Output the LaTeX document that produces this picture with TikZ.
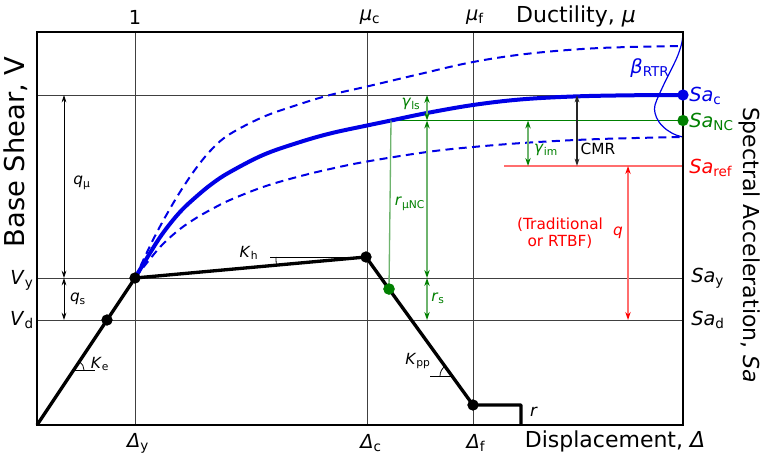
\documentclass[tikz,border=0pt]{standalone}
\usepackage{fontspec}
\setmainfont{DejaVu Sans}
\usetikzlibrary{arrows.meta}
\definecolor{myblue}{RGB}{0,0,230}
\definecolor{mygreen}{RGB}{0,128,0}
\definecolor{lgreen}{RGB}{110,180,110}
\definecolor{lred}{RGB}{255,110,110}
\newcommand\sbx[1]{\textsubscript{#1}}
\begin{document}
\begin{tikzpicture}[x=0.75pt,y=-0.75pt,
  gridline/.style={black!75,line width=0.75pt},
  frameline/.style={line width=1.6pt},
  push/.style={line width=2.5pt,line join=round},
  dotb/.style={circle,fill=black,inner sep=0pt,minimum size=8.3pt},
  dotg/.style={circle,fill=mygreen,inner sep=0pt,minimum size=8.5pt},
  dotbl/.style={circle,fill=myblue,inner sep=0pt,minimum size=8.5pt},
  dimar/.style={{Stealth[length=5.5pt,width=3.5pt]}-{Stealth[length=5.5pt,width=3.5pt]},line width=0.6pt},
  gdim/.style={{Stealth[length=6pt,width=4pt,color=mygreen]}-{Stealth[length=6pt,width=4pt,color=mygreen]},draw=lgreen,line width=1pt},
  rdim/.style={{Stealth[length=6pt,width=4pt,color=red]}-{Stealth[length=6pt,width=4pt,color=red]},draw=lred,line width=1pt},
  lbl/.style={inner sep=0pt,font=\fontsize{11.5}{13}\selectfont},
  tick/.style={inner sep=0pt,font=\fontsize{14.5}{16}\selectfont},
  axt/.style={inner sep=0pt,font=\fontsize{16.5}{18}\selectfont},
  curvsolid/.style={myblue,line width=3pt},
  curvdash/.style={myblue,line width=1.5pt,dash pattern=on 6pt off 4pt}
]
\useasboundingbox (0,0) rectangle (764,457);
\fill[white] (0,0) rectangle (764,457);

% frame corners
\coordinate (TL) at (37,32); \coordinate (TR) at (683,32);
\coordinate (BL) at (37,425); \coordinate (BR) at (683,425);

% grid lines
\coordinate (hcL) at (37,95);  \coordinate (hcR) at (683,95);
\coordinate (hyL) at (37,278); \coordinate (hyR) at (683,278);
\coordinate (hdL) at (37,320); \coordinate (hdR) at (683,320);
\coordinate (v1T) at (135,32); \coordinate (v1B) at (135,425);
\coordinate (vcT) at (367,32); \coordinate (vcB) at (367,425);
\coordinate (vfT) at (473,32); \coordinate (vfB) at (473,425);
\draw[gridline] (hcL) -- (hcR);
\draw[gridline] (hyL) -- (hyR);
\draw[gridline] (hdL) -- (hdR);
\draw[gridline] (v1T) -- (v1B);
\draw[gridline] (vcT) -- (vcB);
\draw[gridline] (vfT) -- (vfB);

% Sa_NC and Sa_ref lines
\coordinate (gT) at (391,120.5);
\coordinate (gR) at (683,120.5);
\coordinate (refL) at (504,166); \coordinate (refR) at (683,166);
\draw[mygreen,line width=0.8pt] (gT) -- (gR);
\draw[lred,line width=1pt] (refL) -- (refR);

% curves
\draw[curvdash] plot[smooth,tension=0.6] coordinates {(135,278) (150,246) (163,221) (180,192) (197,167) (213,148) (230,134) (263,117) (297,105) (330,95) (367,86.5) (420,74) (473,62) (530,53.5) (600,48) (683,46)};
\draw[curvdash] plot[smooth,tension=0.6] coordinates {(135,278) (150,259) (163,244) (180,229) (197,217.5) (213,208.5) (230,200) (263,187) (297,177) (330,169) (367,161.5) (427,152) (473,147) (530,142.5) (600,139) (683,137)};
\draw[curvsolid] plot[smooth,tension=0.6] coordinates {(135,278) (150,253) (163,233) (180,212) (197,196) (213,183) (230,172) (263,155) (297,143) (330,133.5) (367,125.5) (391,120.5) (427,113) (473,105) (520,99.5) (573,96.5) (630,95.3) (683,95)};
% beta_RTR distribution
\draw[myblue,line width=0.9pt] plot[smooth,tension=0.6] coordinates {(683,32) (682,42) (678,55) (672,68) (665,82) (659,95) (655,105) (655,113) (659,122) (667,130) (676,135) (683,137)};

% frame
\draw[frameline] (TL) rectangle (BR);

% pushover curve
\coordinate (O) at (37,425);
\node[dotb] (D) at (107,320) {};
\node[dotb] (Y) at (135,278) {};
\node[dotb] (C) at (366,257) {};
\node[dotg] (G) at (389,289) {};
\node[dotb] (F) at (473,405) {};
\coordinate (R1) at (521,405); \coordinate (R2) at (521,425);
\draw[lgreen,line width=1pt] (G.center) -- (gT);
\draw[push] (O) -- (D.center) -- (Y.center) -- (C.center) -- (G.center) -- (F.center) -- (R1) -- (R2);
\node[dotb] at (D) {};
\node[dotb] at (Y) {};
\node[dotb] at (C) {};
\node[dotg] at (G) {};
\node[dotb] at (F) {};
\node[dotbl] (SC) at (683,95) {};
\node[dotg] (SN) at (683,120.5) {};

% stiffness angle marks
\coordinate (ke) at (74,370); \coordinate (keR) at (95,370);
\draw[line width=0.6pt] (ke) -- (keR);
\draw[line width=0.6pt] (84,370) arc[start angle=0,end angle=56.3,radius=7.5pt];
\coordinate (khL) at (270,257);
\draw[line width=0.6pt] (khL) -- (C.center);
\draw[line width=0.6pt] (276,257) arc[start angle=180,end angle=185.2,radius=67.5pt];
\coordinate (kp) at (452,376); \coordinate (kpL) at (430,376);
\draw[line width=0.6pt] (kpL) -- (kp);
\draw[line width=0.6pt] (440,376) arc[start angle=180,end angle=125.9,radius=9pt];

% dimension arrows
\coordinate (qmT) at (64,95); \coordinate (qmB) at (64,278); \coordinate (qsB) at (64,320);
\draw[dimar] (qmT) -- (qmB);
\draw[dimar] (qmB) -- (qsB);
\coordinate (g1) at (427,95); \coordinate (g2) at (427,120.5); \coordinate (g3) at (427,278); \coordinate (g4) at (427,320);
\draw[gdim] (g1) -- (g2);
\draw[gdim] (g2) -- (g3);
\draw[gdim] (g3) -- (g4);
\coordinate (gi1) at (528,120.5); \coordinate (gi2) at (528,166);
\draw[gdim] (gi1) -- (gi2);
\coordinate (cm1) at (577,95); \coordinate (cm2) at (577,166);
\draw[dimar,black!85,line width=0.8pt] (cm1) -- (cm2);
\coordinate (qr1) at (628,166); \coordinate (qr2) at (628,320);
\draw[rdim] (qr1) -- (qr2);

% top labels
\node[tick] (t1) at (135,17) {1};
\node[tick] (tmc) at (370,17) {\textit{μ}\sbx{c}};
\node[tick] (tmf) at (475,17) {\textit{μ}\sbx{f}};
\node[axt] (tduc) at (576,16) {Ductility, \textit{μ}};
% bottom labels
\node[tick] (tdy) at (138,443) {\textit{Δ}\sbx{y}};
\node[tick] (tdc) at (371,443) {\textit{Δ}\sbx{c}};
\node[tick] (tdf) at (476,443) {\textit{Δ}\sbx{f}};
\node[axt] (tdis) at (615,441) {Displacement, \textit{Δ}};
% left labels
\node[axt,rotate=90,font=\fontsize{20.5}{22}\selectfont] (tbs) at (16,152) {Base Shear, V};
\node[tick] (tvy) at (22,280) {\textit{V}\sbx{y}};
\node[tick] (tvd) at (22,320) {\textit{V}\sbx{d}};
% right labels
\node[axt,rotate=-90] (tsa) at (750,245) {Spectral Acceleration, \textit{Sa}};
\node[tick,anchor=west,text=myblue] (lsc) at (689,96) {\textit{Sa}\sbx{c}};
\node[tick,anchor=west,text=mygreen] (lsn) at (689,122) {\textit{Sa}\sbx{NC}};
\node[tick,anchor=west,text=red] (lsr) at (689,168) {\textit{Sa}\sbx{ref}};
\node[tick,anchor=west] (lsy) at (691,278) {\textit{Sa}\sbx{y}};
\node[tick,anchor=west] (lsd) at (691,320) {\textit{Sa}\sbx{d}};
\node[tick,text=myblue] (lbeta) at (650,68) {\textit{β}\sbx{RTR}};
% small labels
\node[lbl] (lqm) at (82,183) {\textit{q}\sbx{μ}};
\node[lbl] (lqs) at (78,299) {\textit{q}\sbx{s}};
\node[lbl,text=mygreen] (lgls) at (411,104) {\textit{γ}\sbx{ls}};
\node[lbl,text=mygreen] (lrmu) at (410,204) {\textit{r}\sbx{μNC}};
\node[lbl,text=mygreen] (lrs) at (438,298) {\textit{r}\sbx{s}};
\node[lbl,text=mygreen] (lgim) at (546,150) {\textit{γ}\sbx{im}};
\node[lbl] (lcmr) at (598,149) {CMR};
\node[lbl,text=red,align=center] (ltrad) at (560,233) {(Traditional\\or RTBF)};
\node[lbl,text=red] (lq) at (618,233) {\textit{q}};
\node[lbl] (lkh) at (249,253) {\textit{K}\sbx{h}};
\node[lbl] (lke) at (100,364) {\textit{K}\sbx{e}};
\node[lbl] (lkp) at (418,361) {\textit{K}\sbx{pp}};
\node[lbl,font=\fontsize{12.5}{14}\selectfont] (lr) at (534,412) {\textit{r}};
\end{tikzpicture}
\end{document}
